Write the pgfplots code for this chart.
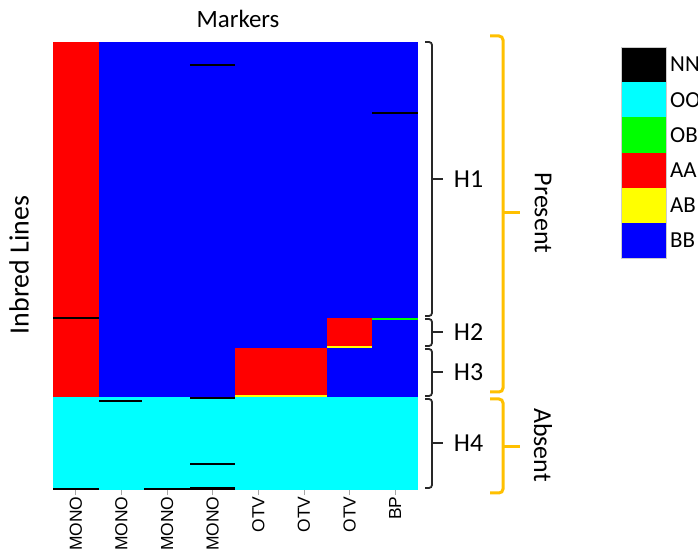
\documentclass[border=0pt]{standalone}
\usepackage{fontspec}
\setmainfont{Carlito}
\newfontfamily\arial{Liberation Sans}
\usepackage{pgfplots}
\pgfplotsset{compat=1.18}
\definecolor{gold}{RGB}{255,192,0}
\definecolor{brk}{RGB}{40,40,40}
\definecolor{OO}{RGB}{0,255,255}
\definecolor{OB}{RGB}{0,255,0}
\definecolor{AA}{RGB}{255,0,0}
\definecolor{AB}{RGB}{255,255,0}
\definecolor{BB}{RGB}{0,0,255}
\definecolor{NN}{RGB}{0,0,0}
\newcommand{\cell}[5]{\addplot[fill=#1,draw=none] coordinates {(#2,#4) (#3,#4) (#3,#5) (#2,#5)};}
\begin{document}
\begin{tikzpicture}
\begin{axis}[at={(53bp,64bp)}, anchor=south west, scale only axis,
  width=365bp, height=448bp,
  xmin=0, xmax=8, ymin=0, ymax=300, y dir=reverse,
  ytick=\empty,
  xtick={0.5,1.5,2.5,3.5,4.5,5.5,6.5,7.5},
  xticklabels={MONO,MONO,MONO,MONO,OTV,OTV,OTV,BP},
  xtick pos=bottom, tick align=outside, major tick length=5bp,
  tick style={gray!70, line width=0.8bp},
  axis line style={draw=none},
  xticklabel style={rotate=90, anchor=east, inner sep=1.5bp,
    font=\arial\fontsize{17.5}{19}\selectfont},
  clip=true]
% genotype blocks (x from, x to, line from, line to)
\cell{AA}{0}{1}{0}{238}
\cell{BB}{1}{8}{0}{238}
\cell{OO}{0}{8}{238}{300}
\cell{AA}{4}{6}{205}{238}
\cell{AA}{6}{7}{185}{205}
% single lines
\cell{NN}{3}{4}{15}{16.3}
\cell{NN}{7}{8}{47}{48.3}
\cell{NN}{0}{1}{184}{185.3}
\cell{OB}{7}{8}{185}{186.3}
\cell{AB}{6}{7}{203.7}{205}
\cell{AB}{4}{6}{236.7}{238}
\cell{NN}{3}{4}{238}{239.3}
\cell{NN}{1}{1.95}{240}{241.3}
\cell{NN}{3}{4}{282}{283.3}
\cell{NN}{0}{1}{298.7}{300}
\cell{NN}{2}{3}{298.7}{300}
\cell{NN}{3}{4}{298}{300}
\end{axis}
\begin{scope}[yshift=554bp, x=1bp, y=-1bp]
% titles
\node[font=\fontsize{25}{28}\selectfont] at (238,19) {Markers};
\node[font=\fontsize{28}{30}\selectfont, rotate=90] at (19,265) {Inbred Lines};
% black brackets
\begin{scope}[draw=brk, line width=1.8bp]
\foreach \a/\b/\m/\t in {42/316/179/H1, 319/346/332/H2, 349/396/372/H3, 399/488/443/H4}{
  \draw (425,\a) -- (429,\a) to[out=0,in=90] (432,\a+3) -- (432,\b-3) to[out=-90,in=0] (429,\b) -- (425,\b);
  \draw (432,\m) -- (443,\m);
  \node[anchor=west, inner sep=0pt, font=\fontsize{26}{28}\selectfont] at (453,\m) {\t};
}
\end{scope}
% gold brackets
\begin{scope}[draw=gold, line width=3bp]
\draw (490,36) -- (499,36) to[out=0,in=90] (503,40) -- (503,388) to[out=-90,in=0] (499,392) -- (490,392);
\draw (503,213) -- (520,213);
\draw (490,399) -- (499,399) to[out=0,in=90] (503,403) -- (503,489) to[out=-90,in=0] (499,493) -- (490,493);
\draw (503,447) -- (520,447);
\end{scope}
\node[rotate=-90, font=\fontsize{26}{28}\selectfont] at (543,213) {Present};
\node[rotate=-90, font=\fontsize{26}{28}\selectfont] at (543,445) {Absent};
% legend
\foreach \c/\l [count=\i from 0] in {NN/NN, OO/OO, OB/OB, AA/AA, AB/AB, BB/BB}{
  \fill[\c] (621,47+35.17*\i) rectangle (666,47+35.17*\i+35.17);
  \node[anchor=west, inner sep=0pt, font=\fontsize{23}{26}\selectfont] at (670,47+35.17*\i+17.6) {\l};
}
\draw[gray!40, line width=0.6bp] (621,47) rectangle (666,258);
\end{scope}
\pgfresetboundingbox
\useasboundingbox (0,0) rectangle (698bp,554bp);
\end{tikzpicture}
\end{document}
